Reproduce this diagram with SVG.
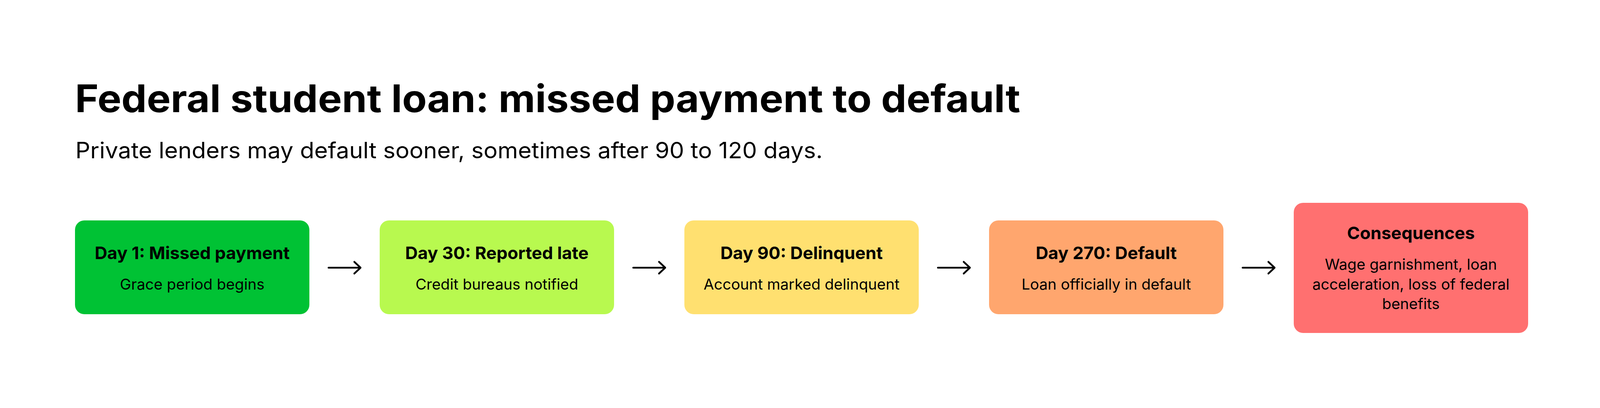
<svg xmlns="http://www.w3.org/2000/svg" width="4104" height="1044" viewBox="0 0 4104 1044">
<style>
.t{font-family:Inter,"Liberation Sans",sans-serif;fill:#000}
.h1{font-size:97px;font-weight:700}
.sub{font-size:57px;font-weight:400}
.nt{font-size:44.5px;font-weight:700;text-anchor:middle}
.nd{font-size:38.5px;font-weight:400;text-anchor:middle}
.conn{stroke:#000;stroke-width:4.5;fill:none;stroke-linecap:round;stroke-linejoin:round}
</style>
<rect width="4104" height="1044" fill="#fff"/>
<text class="t h1" x="192" y="287" textLength="2420" lengthAdjust="spacingAndGlyphs">Federal student loan: missed payment to default</text>
<text class="t sub" x="193" y="405" textLength="1913" lengthAdjust="spacingAndGlyphs">Private lenders may default sooner, sometimes after 90 to 120 days.</text>
<g id="node1">
<rect x="192" y="564" width="600" height="240" rx="24" fill="#00C234"/>
<text class="t nt" x="492" y="663">Day 1: Missed payment</text>
<text class="t nd" x="492" y="741">Grace period begins</text>
</g>
<g id="node2">
<rect x="972" y="564" width="600" height="240" rx="24" fill="#B8F94F"/>
<text class="t nt" x="1272" y="663">Day 30: Reported late</text>
<text class="t nd" x="1272" y="741">Credit bureaus notified</text>
</g>
<g id="node3">
<rect x="1752" y="564" width="600" height="240" rx="24" fill="#FFE070"/>
<text class="t nt" x="2052" y="663">Day 90: Delinquent</text>
<text class="t nd" x="2052" y="741">Account marked delinquent</text>
</g>
<g id="node4">
<rect x="2532" y="564" width="600" height="240" rx="24" fill="#FFA66E"/>
<text class="t nt" x="2832" y="663">Day 270: Default</text>
<text class="t nd" x="2832" y="741">Loan officially in default</text>
</g>
<g id="node5">
<rect x="3312" y="519" width="600" height="333" rx="24" fill="#FF7070"/>
<text class="t nt" x="3612" y="612">Consequences</text>
<text class="t nd" x="3612" y="690">Wage garnishment, loan</text>
<text class="t nd" x="3612" y="741">acceleration, loss of federal</text>
<text class="t nd" x="3612" y="791">benefits</text>
</g>
<g id="connectors">
<path class="conn" d="M841 685H923M907 670L923 685L907 700"/>
<path class="conn" d="M1621 685H1703M1687 670L1703 685L1687 700"/>
<path class="conn" d="M2401 685H2483M2467 670L2483 685L2467 700"/>
<path class="conn" d="M3181 685H3263M3247 670L3263 685L3247 700"/>
</g>
</svg>
